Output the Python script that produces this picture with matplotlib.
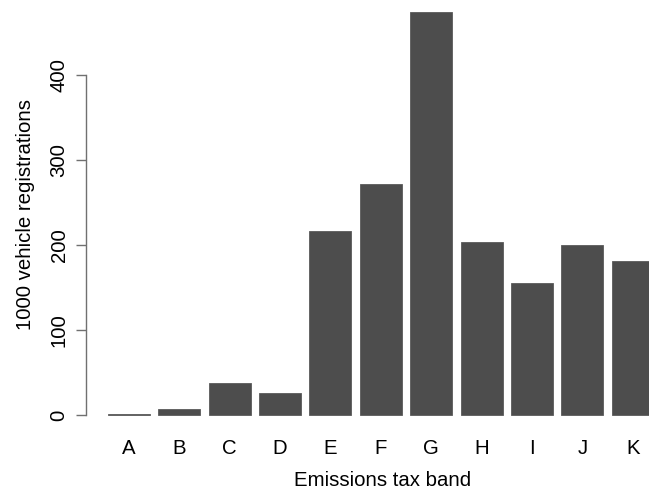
import matplotlib
matplotlib.use("Agg")
import matplotlib.pyplot as plt
import numpy as np

plt.rcParams['font.family'] = ['Liberation Sans', 'DejaVu Sans']

bands = ["A", "B", "C", "D", "E", "F", "G", "H", "I", "J", "K"]
registrations = [0.8, 6.7, 37.3, 25.5, 216.6, 271.4, 473.6, 203.3, 155.1, 200.1, 181.0]
yticks = [0, 100, 200, 300, 400]

W, H = 649, 495
FS = 14.7
fig = plt.figure(figsize=(W / 100, H / 100), dpi=100)

# plot region as in R's barplot (it runs past the right and top edges)
left, right, top, bottom = 86, 675.7, -4.1, 431.1
ax = fig.add_axes([left / W, (H - bottom) / H, (right - left) / W, (bottom - top) / H])

# R style bar positions: width 1, space 0.2
x = 0.7 + 1.2 * np.arange(len(bands))
ax.bar(x, registrations, width=1.0, color="#4d4d4d", edgecolor="#5a5a5a", linewidth=0.6)

lo, hi = 0.2, 1.2 * len(bands)
pad = 0.04 * (hi - lo)
ax.set_xlim(lo - pad, hi + pad)
ymax = max(registrations)
ax.set_ylim(-0.04 * ymax, ymax * 1.04)

for s in ["top", "right", "bottom"]:
    ax.spines[s].set_visible(False)
ax.spines["left"].set_bounds(0, 400)
ax.spines["left"].set_color("#707070")
ax.spines["left"].set_linewidth(1.0)

ax.set_yticks(yticks)
ax.set_yticklabels([str(v) for v in yticks], rotation=90, va="center", fontsize=FS)
ax.tick_params(axis="y", length=7, width=1.0, color="#707070", pad=5.5)

ax.set_xticks(x)
ax.set_xticklabels(bands, fontsize=FS)
ax.tick_params(axis="x", length=0, pad=6)

fig.text(382.5 / W, 1 - 481 / H, "Emissions tax band",
         ha="center", va="center", fontsize=FS)
fig.text(25.5 / W, 1 - 214 / H, "1000 vehicle registrations", rotation=90,
         ha="center", va="center", fontsize=FS)

fig.savefig("out.png", dpi=100)
